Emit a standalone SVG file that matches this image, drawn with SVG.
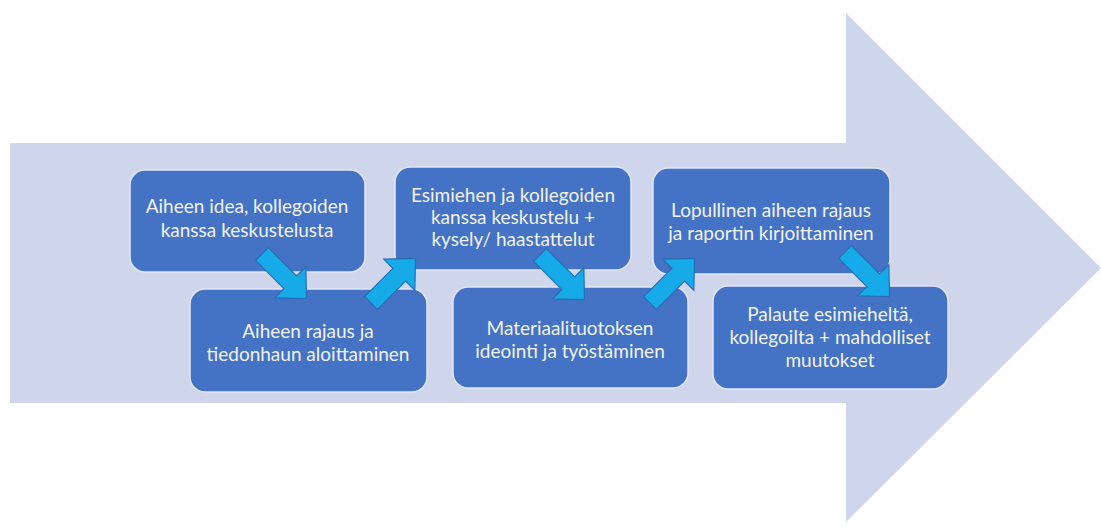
<svg xmlns="http://www.w3.org/2000/svg" width="1101" height="527" viewBox="0 0 1101 527">
<defs>
<style>
.box{fill:#4472c4;stroke:#dfe6f5;stroke-width:1.5}
.t{font-family:Lato,"Open Sans","Liberation Sans",sans-serif;font-size:19px;fill:#f2f2f2;text-anchor:middle}
.arr{fill:#16aae8;stroke:#2a6db3;stroke-width:1.2;stroke-linejoin:miter}
</style>
<path id="ba" d="M0,-9 L40,-9 L40,-22 L63,0 L40,22 L40,9 L0,9 Z"/>
</defs>
<rect width="1101" height="527" fill="#ffffff"/>
<path id="bigarrow" d="M10,143 L846,143 L846,13 L1101,268 L846,522 L846,403 L10,403 Z" fill="#cfd5ea"/>
<g id="n1"><rect class="box" x="130" y="170" width="235" height="102" rx="15"/><text class="t" x="247" y="213">Aiheen idea, kollegoiden</text><text class="t" x="247" y="237">kanssa keskustelusta</text></g>
<g id="n3"><rect class="box" x="395" y="167" width="236" height="103" rx="15"/><text class="t" x="513" y="202">Esimiehen ja kollegoiden</text><text class="t" x="513" y="224">kanssa keskustelu +</text><text class="t" x="513" y="246">kysely/ haastattelut</text></g>
<g id="n5"><rect class="box" x="653" y="168" width="237" height="106" rx="15"/><text class="t" x="771" y="217">Lopullinen aiheen rajaus</text><text class="t" x="771" y="240">ja raportin kirjoittaminen</text></g>
<g id="n2"><rect class="box" x="190" y="289" width="237" height="103" rx="15"/><text class="t" x="308" y="338">Aiheen rajaus ja</text><text class="t" x="308" y="361">tiedonhaun aloittaminen</text></g>
<g id="n4"><rect class="box" x="453" y="287" width="235" height="101" rx="15"/><text class="t" x="570" y="335">Materiaalituotoksen</text><text class="t" x="570" y="358">ideointi ja työstäminen</text></g>
<g id="n6"><rect class="box" x="713" y="286" width="235" height="103" rx="15"/><text class="t" x="830" y="321">Palaute esimieheltä,</text><text class="t" x="830" y="344">kollegoilta + mahdolliset</text><text class="t" x="830" y="367">muutokset</text></g>
<g id="connectors">
<use href="#ba" class="arr" transform="translate(262,254) rotate(45)"/>
<use href="#ba" class="arr" transform="translate(371,303) rotate(-45)"/>
<use href="#ba" class="arr" transform="translate(540,255) rotate(45)"/>
<use href="#ba" class="arr" transform="translate(650,303) rotate(-45)"/>
<use href="#ba" class="arr" transform="translate(845,252) rotate(45)"/>
</g>
</svg>
